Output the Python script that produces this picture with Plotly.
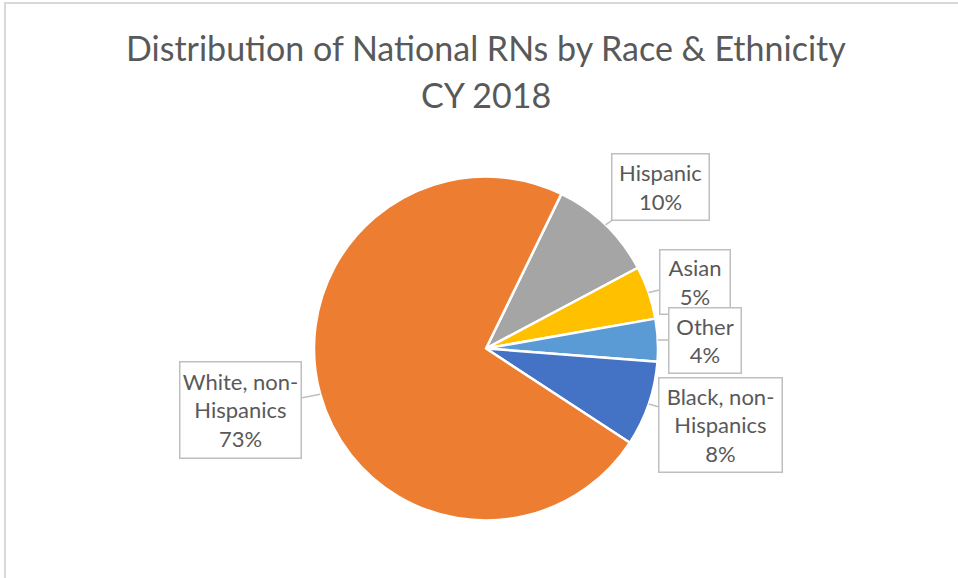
import math
import plotly.graph_objects as go

# ---- data ----
categories = ["Hispanic", "Asian", "Other", "Black, non-Hispanics", "White, non-Hispanics"]
label_lines = ["Hispanic", "Asian", "Other", "Black, non-<br>Hispanics", "White, non-<br>Hispanics"]
shares = [10, 5, 4, 8, 73]
colors = ["#A5A5A5", "#FFC000", "#5B9BD5", "#4472C4", "#ED7D31"]
title_lines = ["Distribution of National RNs by Race & Ethnicity", "CY 2018"]

# ---- layout / style ----
W, H = 958, 578
CX, CY, R = 486, 348.5, 172
ROT = 26
TITLE_Y = [48, 95]
# callout box offsets from slice edge (px) and box sizes (px)
callout_style = [
    dict(ax=55, ay=-38, w=99, h=68),
    dict(ax=46, ay=-11, w=72, h=66),
    dict(ax=47, ay=0, w=74, h=67),
    dict(ax=72, ay=21, w=125, h=96),
    dict(ax=-80, ay=16, w=123, h=98),
]
TEXT = "#595959"
FONT = "Lato"

fig = go.Figure(go.Pie(
    labels=categories, values=shares, sort=False, direction="clockwise",
    rotation=ROT, textinfo="none", hoverinfo="label+percent", showlegend=False,
    marker=dict(colors=colors, line=dict(color="white", width=2.5)),
    domain=dict(x=[(CX - R) / W, (CX + R) / W], y=[1 - (CY + R) / H, 1 - (CY - R) / H]),
))

total = sum(shares)
annotations = []
cum = 0
for lab, v, st in zip(label_lines, shares, callout_style):
    mid = ROT + (cum + v / 2) / total * 360
    cum += v
    tx = CX + R * math.sin(math.radians(mid))
    ty = CY - R * math.cos(math.radians(mid))
    annotations.append(dict(
        x=tx / W, y=1 - ty / H, xref="paper", yref="paper",
        text=f"{lab}<br>{round(v / total * 100)}%",
        showarrow=True, arrowhead=0, arrowwidth=1.5, arrowcolor="#BFBFBF",
        ax=st["ax"], ay=st["ay"], standoff=0,
        width=st["w"] - 3, height=st["h"] - 3, align="center", valign="middle",
        bgcolor="white", bordercolor="#BFBFBF", borderwidth=1.5, borderpad=0,
        font=dict(family=FONT, size=22, color=TEXT),
    ))

for line, yy in zip(title_lines, TITLE_Y):
    annotations.append(dict(
        x=486 / W, y=1 - yy / H, xref="paper", yref="paper", xanchor="center", yanchor="middle",
        text=line, showarrow=False, font=dict(family=FONT, size=34, color=TEXT),
    ))

fig.update_layout(
    width=W, height=H, margin=dict(l=0, r=0, t=0, b=0),
    paper_bgcolor="white", plot_bgcolor="white",
    annotations=annotations,
    shapes=[dict(type="rect", xref="paper", yref="paper", x0=5 / W, x1=1.2, y0=-0.2, y1=1 - 3 / H,
                 line=dict(color="#D9D9D9", width=2), fillcolor="rgba(0,0,0,0)", layer="below")],
)

fig.write_html("out.html")
